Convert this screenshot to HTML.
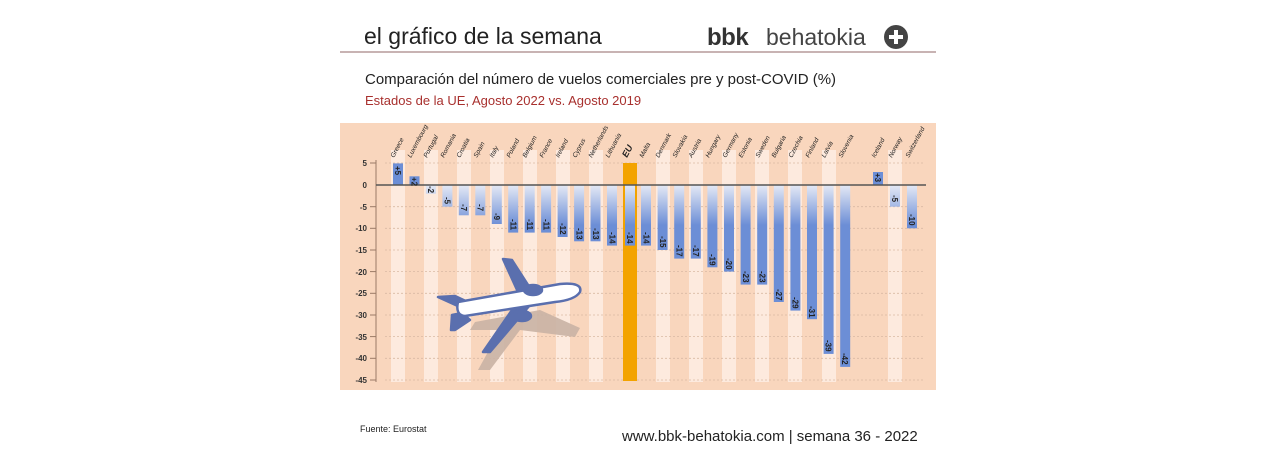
<!DOCTYPE html>
<html><head><meta charset="utf-8"><style>
body{margin:0;background:#fff;width:1276px;height:447px;overflow:hidden;font-family:"Liberation Sans",sans-serif}
</style></head><body>
<svg width="1276" height="447" xmlns="http://www.w3.org/2000/svg" font-family="Liberation Sans, sans-serif">
<defs>
<linearGradient id="g" gradientUnits="userSpaceOnUse" x1="0" y1="185" x2="0" y2="225">
<stop offset="0" stop-color="#e4e9f5"/><stop offset="1" stop-color="#6c8ed6"/></linearGradient>
</defs>
<text x="364" y="44" font-size="23" fill="#222">el gráfico de la semana</text>
<text x="707" y="45" font-size="24" font-weight="bold" fill="#333" letter-spacing="-0.5">bbk</text>
<text x="766" y="45" font-size="23" fill="#444">behatokia</text>
<circle cx="896" cy="37" r="12" fill="#444"/>
<rect x="889" y="35" width="14" height="4" fill="#fff"/><rect x="894" y="30" width="4" height="14" fill="#fff"/>
<line x1="340" y1="52" x2="936" y2="52" stroke="#b59a9a" stroke-width="1.5"/>
<text x="365" y="84" font-size="15" fill="#222">Comparación del número de vuelos comerciales pre y post-COVID (%)</text>
<text x="365" y="105" font-size="13" fill="#a8302e">Estados de la UE, Agosto 2022 vs. Agosto 2019</text>
<rect x="340" y="123" width="596" height="267" fill="#f9d6bd"/>
<g fill="#fdeade">
<rect x="391" y="150" width="14" height="232"/><rect x="424" y="150" width="14" height="232"/><rect x="457" y="150" width="14" height="232"/><rect x="490" y="150" width="14" height="232"/><rect x="523" y="150" width="14" height="232"/><rect x="556" y="150" width="14" height="232"/><rect x="589" y="150" width="14" height="232"/>
<rect x="656" y="150" width="14" height="232"/><rect x="689" y="150" width="14" height="232"/><rect x="722" y="150" width="14" height="232"/><rect x="755" y="150" width="14" height="232"/><rect x="788" y="150" width="14" height="232"/><rect x="822" y="150" width="14" height="232"/><rect x="888" y="150" width="14" height="232"/>
</g>
<g stroke="#d9b9a3" stroke-dasharray="2,2" stroke-width="0.8">
<line x1="385" y1="163" x2="925" y2="163"/><line x1="385" y1="206.7" x2="925" y2="206.7"/><line x1="385" y1="228.3" x2="925" y2="228.3"/><line x1="385" y1="250" x2="925" y2="250"/><line x1="385" y1="271.6" x2="925" y2="271.6"/><line x1="385" y1="293.3" x2="925" y2="293.3"/><line x1="385" y1="315" x2="925" y2="315"/><line x1="385" y1="336.6" x2="925" y2="336.6"/><line x1="385" y1="358.3" x2="925" y2="358.3"/><line x1="385" y1="380" x2="925" y2="380"/>
</g>
<line x1="376" y1="160" x2="376" y2="382" stroke="#9a7a66" stroke-width="1"/>
<g font-size="8" font-weight="bold" fill="#333" text-anchor="end">
<text x="367" y="166">5</text><text x="367" y="188">0</text><text x="367" y="210">-5</text><text x="367" y="231">-10</text><text x="367" y="253">-15</text><text x="367" y="275">-20</text><text x="367" y="296">-25</text><text x="367" y="318">-30</text><text x="367" y="340">-35</text><text x="367" y="361">-40</text><text x="367" y="383">-45</text>
</g>
<g stroke="#9a7a66"><line x1="370" y1="163" x2="376" y2="163"/><line x1="370" y1="206.7" x2="376" y2="206.7"/><line x1="370" y1="228.3" x2="376" y2="228.3"/><line x1="370" y1="250" x2="376" y2="250"/><line x1="370" y1="271.6" x2="376" y2="271.6"/><line x1="370" y1="293.3" x2="376" y2="293.3"/><line x1="370" y1="315" x2="376" y2="315"/><line x1="370" y1="336.6" x2="376" y2="336.6"/><line x1="370" y1="358.3" x2="376" y2="358.3"/><line x1="370" y1="380" x2="376" y2="380"/></g>
<rect x="623" y="163" width="14" height="218" fill="#f3a300"/>
<g fill="url(#g)">
<rect x="393" y="163.4" width="10" height="21.6" fill="#6c8ed6"/><rect x="409.5" y="176.3" width="10" height="8.7" fill="#6c8ed6"/>
<rect x="425.9" y="185" width="10" height="8.7"/><rect x="442.4" y="185" width="10" height="21.7"/><rect x="458.8" y="185" width="10" height="30.3"/><rect x="475.3" y="185" width="10" height="30.3"/><rect x="491.8" y="185" width="10" height="39"/><rect x="508.2" y="185" width="10" height="47.6"/><rect x="524.7" y="185" width="10" height="47.6"/><rect x="541.1" y="185" width="10" height="47.6"/><rect x="557.6" y="185" width="10" height="52"/><rect x="574.1" y="185" width="10" height="56.3"/><rect x="590.5" y="185" width="10" height="56.3"/><rect x="607" y="185" width="10" height="60.6"/>
<rect x="625" y="185" width="10" height="60.6"/>
<rect x="641" y="185" width="10" height="60.6"/><rect x="657.6" y="185" width="10" height="65"/><rect x="674.2" y="185" width="10" height="73.6"/><rect x="690.8" y="185" width="10" height="73.6"/><rect x="707.4" y="185" width="10" height="82.3"/><rect x="724" y="185" width="10" height="86.6"/><rect x="740.6" y="185" width="10" height="99.6"/><rect x="757.2" y="185" width="10" height="99.6"/><rect x="773.8" y="185" width="10" height="117"/><rect x="790.4" y="185" width="10" height="125.6"/><rect x="807" y="185" width="10" height="134.2"/><rect x="823.6" y="185" width="10" height="168.9"/><rect x="840.2" y="185" width="10" height="181.9"/>
<rect x="873" y="172" width="10" height="13" fill="#6c8ed6"/><rect x="890" y="185" width="10" height="21.7"/><rect x="907" y="185" width="10" height="43.3"/>
</g>
<line x1="376" y1="185" x2="926" y2="185" stroke="#555" stroke-width="1.5"/>
<g font-size="8" fill="#222" font-weight="bold">
<text transform="translate(395,166) rotate(90)">+5</text>
<text transform="translate(411.5,177) rotate(90)">+2</text>
<text transform="translate(428,186) rotate(90)">-2</text>
<text transform="translate(444.5,197) rotate(90)">-5</text>
<text transform="translate(461,204) rotate(90)">-7</text>
<text transform="translate(477.5,204) rotate(90)">-7</text>
<text transform="translate(494,213) rotate(90)">-9</text>
<text transform="translate(510.5,219) rotate(90)">-11</text>
<text transform="translate(527,219) rotate(90)">-11</text>
<text transform="translate(543.5,219) rotate(90)">-11</text>
<text transform="translate(560,223) rotate(90)">-12</text>
<text transform="translate(576.5,228) rotate(90)">-13</text>
<text transform="translate(593,228) rotate(90)">-13</text>
<text transform="translate(609.5,232) rotate(90)">-14</text>
<text transform="translate(627,232) rotate(90)">-14</text>
<text transform="translate(643.5,232) rotate(90)">-14</text>
<text transform="translate(660,236) rotate(90)">-15</text>
<text transform="translate(676.5,245) rotate(90)">-17</text>
<text transform="translate(693,245) rotate(90)">-17</text>
<text transform="translate(709.5,254) rotate(90)">-19</text>
<text transform="translate(726,258) rotate(90)">-20</text>
<text transform="translate(743,271) rotate(90)">-23</text>
<text transform="translate(759.5,271) rotate(90)">-23</text>
<text transform="translate(776,289) rotate(90)">-27</text>
<text transform="translate(792.5,297) rotate(90)">-29</text>
<text transform="translate(809,306) rotate(90)">-31</text>
<text transform="translate(825.5,340) rotate(90)">-39</text>
<text transform="translate(842,353) rotate(90)">-42</text>
<text transform="translate(875,173) rotate(90)">+3</text>
<text transform="translate(892,195) rotate(90)">-5</text>
<text transform="translate(909,214) rotate(90)">-10</text>
</g>
<g font-size="6.5" fill="#222" font-style="italic">
<text transform="translate(394,158) rotate(-62)">Greece</text>
<text transform="translate(411,158) rotate(-62)">Luxembourg</text>
<text transform="translate(427,158) rotate(-62)">Portugal</text>
<text transform="translate(444,158) rotate(-62)">Romania</text>
<text transform="translate(460,158) rotate(-62)">Croatia</text>
<text transform="translate(477,158) rotate(-62)">Spain</text>
<text transform="translate(493,158) rotate(-62)">Italy</text>
<text transform="translate(510,158) rotate(-62)">Poland</text>
<text transform="translate(526,158) rotate(-62)">Belgium</text>
<text transform="translate(543,158) rotate(-62)">France</text>
<text transform="translate(559,158) rotate(-62)">Ireland</text>
<text transform="translate(576,158) rotate(-62)">Cyprus</text>
<text transform="translate(592,158) rotate(-62)">Netherlands</text>
<text transform="translate(609,158) rotate(-62)">Lithuania</text>
<text transform="translate(627,158) rotate(-62)" font-size="9" font-weight="bold">EU</text>
<text transform="translate(643,158) rotate(-62)">Malta</text>
<text transform="translate(659,158) rotate(-62)">Denmark</text>
<text transform="translate(676,158) rotate(-62)">Slovakia</text>
<text transform="translate(692,158) rotate(-62)">Austria</text>
<text transform="translate(709,158) rotate(-62)">Hungary</text>
<text transform="translate(726,158) rotate(-62)">Germany</text>
<text transform="translate(742,158) rotate(-62)">Estonia</text>
<text transform="translate(759,158) rotate(-62)">Sweden</text>
<text transform="translate(775,158) rotate(-62)">Bulgaria</text>
<text transform="translate(792,158) rotate(-62)">Czechia</text>
<text transform="translate(809,158) rotate(-62)">Finland</text>
<text transform="translate(825,158) rotate(-62)">Latvia</text>
<text transform="translate(842,158) rotate(-62)">Slovenia</text>
<text transform="translate(875,158) rotate(-62)">Iceland</text>
<text transform="translate(892,158) rotate(-62)">Norway</text>
<text transform="translate(909,158) rotate(-62)">Switzerland</text>
</g>
<g fill="#c9b3a4" opacity="0.9">
<path d="M475,322 L540,310 L580,328 L575,337 L520,330 L490,370 L478,370 L500,330 L470,330 Z"/>
</g>
<g stroke="#5a6fae" stroke-width="2.5" fill="#fff" stroke-linejoin="round">
<path d="M503,259 L512,260 L530,288 L518,292 Z" fill="#5a6fae"/>
<path d="M490,352 L483,352 L512,310 L530,305 Z" fill="#5a6fae"/>
<path d="M438,297 L455,296 L470,303 L460,307 Z" fill="#5a6fae"/>
<path d="M452,315 L462,313 L470,320 L455,330 L451,330 Z" fill="#5a6fae"/>
<path d="M458,302 L560,284 Q583,282 580,292 Q575,300 555,302 L465,316 Q455,315 458,302 Z"/>
<ellipse cx="533" cy="290" rx="9" ry="5" fill="#5a6fae"/>
<ellipse cx="522" cy="316" rx="9" ry="5" fill="#5a6fae"/>
</g>
<text x="360" y="432" font-size="9" fill="#222">Fuente: Eurostat</text>
<text x="622" y="441" font-size="15" fill="#222">www.bbk-behatokia.com | semana 36 - 2022</text>
</svg>
</body></html>
